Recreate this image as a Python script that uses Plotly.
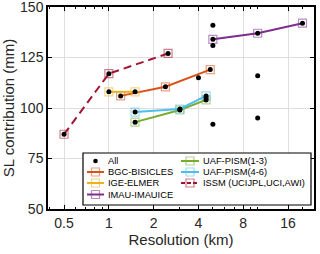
import plotly.graph_objects as go
import numpy as np

# ---------------- data ----------------
series_names = ["BGC-BISICLES", "IGE-ELMER", "IMAU-IMAUICE",
                "UAF-PISM(1-3)", "UAF-PISM(4-6)", "ISSM (UCIJPL,UCI,AWI)"]
series_colors = ["#D95319", "#EDB120", "#7E2F8E", "#77AC30", "#4DBEEE", "#A2142F"]
series_alpha = ["rgba(217,83,25,0.55)", "rgba(237,177,32,0.55)", "rgba(126,47,142,0.55)",
                "rgba(119,172,48,0.55)", "rgba(77,190,238,0.55)", "rgba(162,20,47,0.55)"]

bgc_res = [1.2, 2.4, 4.8]
bgc_sl = [106, 110.5, 119]
ige_res = [1, 1.5]
ige_sl = [108, 108]
imau_res = [5, 10, 20]
imau_sl = [134, 137, 142]
uaf13_res = [1.5, 3, 4.5]
uaf13_sl = [93, 99, 104]
uaf46_res = [1.5, 3, 4.5]
uaf46_sl = [98, 99.5, 106]
issm_res = [0.5, 1, 2.5]
issm_sl = [87, 117, 127]

extra_res = [4, 4.5, 5, 5, 5, 10, 10]
extra_sl = [115, 105, 141, 131, 92, 116, 95]

series_res = [bgc_res, ige_res, imau_res, uaf13_res, uaf46_res, issm_res]
series_sl = [bgc_sl, ige_sl, imau_sl, uaf13_sl, uaf46_sl, issm_sl]

all_res = sum(series_res, []) + extra_res
all_sl = sum(series_sl, []) + extra_sl

x_tickvals = [0.5, 1, 2, 4, 8, 16]
x_ticktext = ["0.5", "1", "2", "4", "8", "16"]
x_minor = [0.4, 0.6, 0.7, 0.8, 0.9, 3, 5, 6, 7, 9, 10, 20]
y_tickvals = [50, 75, 100, 125, 150]

# ---------------- geometry ----------------
W, H = 320, 254
ML, MR, MT, MB = 48, 6, 7, 45
PW, PH = W - ML - MR, H - MT - MB


def px(xp):
    return (xp - ML) / PW


def py(yp):
    return (H - MB - yp) / PH


FONT = "Liberation Sans, Arial, sans-serif"

fig = go.Figure()
for name, col, acol, xs, ys in zip(series_names, series_colors, series_alpha, series_res, series_sl):
    fig.add_trace(go.Scatter(
        x=xs, y=ys, mode="lines+markers", name=name, showlegend=False,
        line=dict(color=col, width=2, dash="8px,5px" if name.startswith("ISSM") else "solid"),
        marker=dict(symbol="square-open", size=8, color=acol, line=dict(width=1.2, color=acol)),
    ))
fig.add_trace(go.Scatter(
    x=all_res, y=all_sl, mode="markers", name="All", showlegend=False,
    marker=dict(symbol="circle", size=5, color="black"),
))

# ---------------- manual legend ----------------
shapes = []
annotations = []
shapes.append(dict(type="rect", xref="paper", yref="paper",
                   x0=px(83), x1=px(311), y0=py(205), y1=py(153),
                   fillcolor="white", line=dict(color="black", width=1.2), layer="above"))

legend_entries = [("All", None, None, 0, 0)] + \
    [(n, c, a, i + 1, 0) for i, (n, c, a) in enumerate(zip(series_names[:3], series_colors[:3], series_alpha[:3]))] + \
    [(n, c, a, i, 1) for i, (n, c, a) in enumerate(zip(series_names[3:], series_colors[3:], series_alpha[3:]))]
row_y = [161, 172, 183, 194.5]
col_line = [(87, 104), (181, 199)]
col_text = [106, 201]

for name, col, acol, row, c in legend_entries:
    yy = row_y[row]
    x0, x1 = col_line[c]
    xc = (x0 + x1) / 2
    if col is None:
        shapes.append(dict(type="circle", xref="paper", yref="paper",
                           x0=px(xc - 2.3), x1=px(xc + 2.3), y0=py(yy + 2.3), y1=py(yy - 2.3),
                           fillcolor="black", line=dict(color="black", width=0), layer="above"))
    else:
        shapes.append(dict(type="line", xref="paper", yref="paper",
                           x0=px(x0), x1=px(x1), y0=py(yy), y1=py(yy),
                           line=dict(color=col, width=2,
                                     dash="4px,2px" if name.startswith("ISSM") else "solid"),
                           layer="above"))
        shapes.append(dict(type="rect", xref="paper", yref="paper",
                           x0=px(xc - 4), x1=px(xc + 4), y0=py(yy + 4), y1=py(yy - 4),
                           fillcolor="rgba(0,0,0,0)", line=dict(color=acol, width=1.2), layer="above"))
    annotations.append(dict(text=name, xref="paper", yref="paper", x=px(col_text[c]), y=py(yy),
                            xanchor="left", yanchor="middle", showarrow=False,
                            font=dict(family=FONT, size=9.3, color="black")))

fig.update_layout(
    width=W, height=H,
    margin=dict(l=ML, r=MR, t=MT, b=MB, pad=0),
    paper_bgcolor="white", plot_bgcolor="white",
    font=dict(family=FONT, size=13, color="#262626"),
    showlegend=False,
    shapes=shapes, annotations=annotations,
)
fig.update_xaxes(
    type="log", range=[np.log10(0.39), np.log10(23.9)],
    tickvals=x_tickvals, ticktext=x_ticktext,
    ticks="inside", ticklen=4, tickcolor="black", tickwidth=1,
    showgrid=True, gridcolor="#dedede", gridwidth=1,
    showline=True, linecolor="black", linewidth=1.5, mirror="ticks",
    minor=dict(tickvals=x_minor, ticks="inside", ticklen=2.5, tickcolor="black", showgrid=False),
    title=dict(text="Resolution (km)", font=dict(size=15, color="#262626"), standoff=4),
    tickfont=dict(size=14, color="#262626"),
    zeroline=False, automargin=False, ticklabeloverflow="allow",
)
fig.update_yaxes(
    range=[50, 150], tickvals=y_tickvals,
    ticks="inside", ticklen=4, tickcolor="black", tickwidth=1,
    showgrid=True, gridcolor="#dedede", gridwidth=1,
    showline=True, linecolor="black", linewidth=1.5, mirror="ticks",
    title=dict(text="SL contribution (mm)", font=dict(size=15, color="#262626"), standoff=4),
    tickfont=dict(size=14, color="#262626"),
    zeroline=False, automargin=False, ticklabeloverflow="allow",
)

fig.write_html("out.html", config={"displayModeBar": False},
               post_script="document.body.style.margin='0px';document.body.style.padding='0px';")
